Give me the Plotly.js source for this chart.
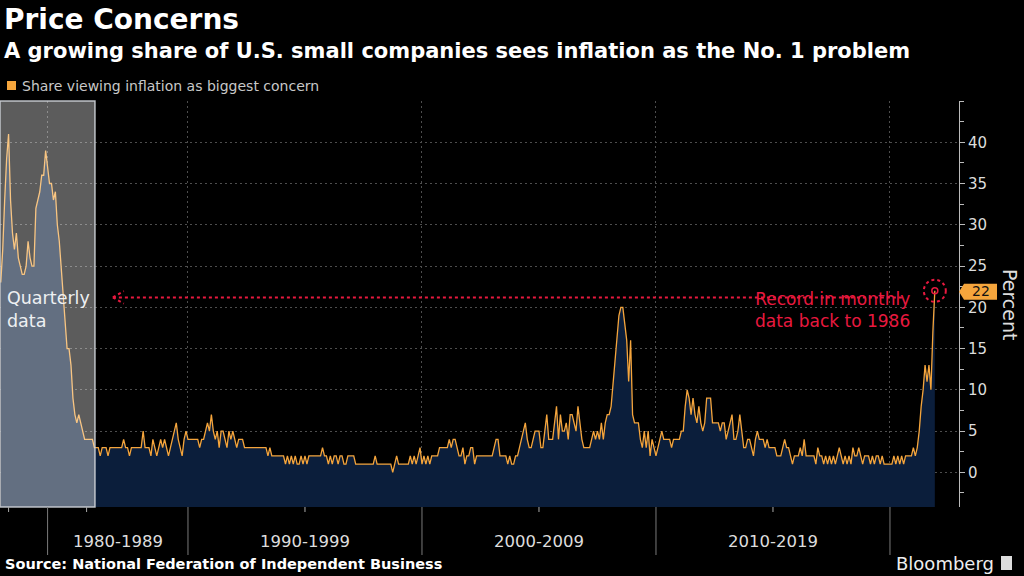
<!DOCTYPE html>
<html><head><meta charset="utf-8">
<script src="https://cdn.plot.ly/plotly-3.0.1.min.js"></script>
<style>html,body{margin:0;padding:0;background:#000;}#chart{width:1024px;height:576px;}</style>
</head><body><div id="chart"></div>
<script>
// ---- data ----
const quarterlyStartYear = 1974;   // first quarterly observation: 1974 Q1
const monthlyStartYear = 1986;     // first monthly observation: Jan 1986
const quarterlyValues = [23,27,33,38,41,33,29,27,29,26,25,24,24,25,28,26,25,25,32,33,34,36,36,39,37,35,35,33,34,30,28,25,22,18,15,15,13,9,7,6,7,6,5,4,4,4,4,4];
const monthlyValues = [
  3,3,3,2,3,3,3,2,3,3,3,3,        // 1986
  3,3,3,4,3,3,2,3,3,3,3,3,        // 1987
  3,5,3,3,3,2,4,3,2,3,4,3,        // 1988
  4,3,2,3,4,5,6,4,3,2,4,5,        // 1989
  4,4,4,4,4,4,3,4,4,5,6,5,        // 1990
  7,5,4,5,3,5,5,4,3,5,4,5,        // 1991
  4,3,4,4,4,3,3,3,3,3,3,3,        // 1992
  3,3,3,3,3,2,3,2,2,2,2,2,        // 1993
  2,2,1,2,1,2,1,2,1,1,2,1,        // 1994
  2,1,2,2,2,2,2,2,2,3,2,2,        // 1995
  1,2,1,2,2,1,2,2,1,1,2,2,        // 1996
  2,2,1,1,1,1,1,1,1,1,1,1,        // 1997
  2,1,1,1,1,1,1,1,1,0,1,2,        // 1998
  1,1,1,1,1,1,2,1,2,1,2,3,        // 1999
  1,2,1,2,1,2,2,2,2,3,3,3,        // 2000
  3,3,4,3,4,4,3,2,2,3,1,2,        // 2001
  2,3,3,1,2,2,2,2,2,2,2,2,        // 2002
  2,3,4,4,2,2,2,2,1,2,1,1,        // 2003
  2,2,3,4,5,6,4,3,3,4,5,5,        // 2004
  5,3,3,5,7,4,4,4,6,8,4,7,        // 2005
  5,5,6,4,7,7,6,5,8,6,4,3,        // 2006
  3,3,3,4,5,4,5,4,6,4,6,7,        // 2007
  7,8,11,14,17,19,20,20,18,16,11,16, // 2008
  7,6,6,6,4,3,5,3,5,2,4,3,        // 2009
  2,3,4,5,4,4,4,4,3,4,4,4,        // 2010
  4,5,5,8,10,9,7,9,7,6,8,6,       // 2011
  5,6,9,9,9,6,6,6,6,5,6,6,        // 2012
  4,5,6,7,4,4,5,7,5,3,3,4,        // 2013
  4,3,2,4,5,4,4,4,3,4,3,3,        // 2014
  3,3,2,2,2,3,4,3,3,2,1,2,        // 2015
  2,2,3,2,4,2,2,2,2,2,1,3,        // 2016
  2,2,1,2,1,2,1,2,1,2,3,2,        // 2017
  1,2,1,2,1,3,2,2,3,2,1,2,        // 2018
  2,2,1,2,1,2,2,1,2,1,1,1,        // 2019
  1,1,2,1,2,1,2,1,2,2,2,2,        // 2020
  3,2,3,5,8,10,13,11,13,10,17,22  // 2021
];
const decadeStartYears = [1980,1990,2000,2010,2020];
const decadeLabels = ['1980-1989','1990-1999','2000-2009','2010-2019'];
const midDecadeYears = [1975,1985,1995,2005,2015];
const yTickValues = [0,5,10,15,20,25,30,35,40];
const seriesName = 'Share viewing inflation as biggest concern';
const titleText = 'Price Concerns';
const subtitleText = 'A growing share of U.S. small companies sees inflation as the No. 1 problem';
const sourceText = 'Source: National Federation of Independent Business';
const noteText = 'Record in monthly<br>data back to 1986';
const regionText = 'Quarterly<br>data';
const yTitleText = 'Percent';

// ---- derived ----
const nQ = quarterlyValues.length;
function yearToIndex(yr){ return yr < monthlyStartYear ? (yr - quarterlyStartYear) * 4 : nQ + (yr - monthlyStartYear) * 12; }
const allValues = quarterlyValues.concat(monthlyValues);
const xIdx = allValues.map((v, i) => i);
const lastI = xIdx[xIdx.length - 1];
const lastV = allValues[allValues.length - 1];

const Y_MIN = -4.2, Y_MAX = 45;
const X_MIN = -0.4, X_MAX = 491.4;
const PLOT_TOP = 101, PLOT_BOTTOM = 507, PLOT_W = 959;
const PH = PLOT_BOTTOM - PLOT_TOP;
const py = p => (PLOT_BOTTOM - p) / PH;   // pixel row -> paper y
const px = p => p / PLOT_W;               // pixel col -> paper x

const RED = '#e8193f';
const ORANGE = '#f5a53c';
const FONT = 'DejaVu Sans';

const traces = [
  {x: xIdx, y: allValues.map(() => Y_MIN), type: 'scatter', mode: 'lines',
   line: {width: 0}, hoverinfo: 'skip', showlegend: false},
  {x: xIdx, y: allValues, type: 'scatter', mode: 'lines', name: seriesName,
   fill: 'tonexty', fillcolor: '#0b1e3b', line: {color: ORANGE, width: 1.3}, showlegend: false},
  {x: [lastI], y: [lastV], type: 'scatter', mode: 'markers',
   marker: {symbol: 'circle-open', size: 6, color: RED, line: {width: 1.5, color: RED}}, showlegend: false}
];

const shapes = [];
// quarterly overlay
shapes.push({type: 'rect', xref: 'x', yref: 'paper', x0: X_MIN, x1: nQ + 0.3, y0: 0, y1: 1,
  fillcolor: 'rgba(255,255,255,0.36)', line: {color: 'rgba(205,210,215,0.9)', width: 1.5}, layer: 'above'});
// decade separators
decadeStartYears.forEach(yr => shapes.push({type: 'line', xref: 'x', yref: 'paper',
  x0: yearToIndex(yr), x1: yearToIndex(yr), y0: 0, y1: py(555), line: {color: '#7a7a7a', width: 1}}));
// mid-decade ticks
midDecadeYears.forEach(yr => shapes.push({type: 'line', xref: 'x', yref: 'paper',
  x0: yearToIndex(yr), x1: yearToIndex(yr), y0: 0, y1: py(512), line: {color: '#aaa', width: 1}}));
// dotted arrow
const arrowY = 21.2, arrowX0 = 57.5, arrowX1 = lastI - 15.5;
shapes.push({type: 'line', xref: 'x', yref: 'y', x0: arrowX0, x1: arrowX1, y0: arrowY, y1: arrowY,
  line: {color: RED, width: 2, dash: 'dot'}});
shapes.push({type: 'line', xref: 'x', yref: 'y', x0: arrowX0, x1: arrowX0 + 5.6, y0: arrowY, y1: arrowY + 0.75,
  line: {color: RED, width: 2, dash: 'dot'}});
shapes.push({type: 'line', xref: 'x', yref: 'y', x0: arrowX0, x1: arrowX0 + 5.6, y0: arrowY, y1: arrowY - 0.75,
  line: {color: RED, width: 2, dash: 'dot'}});
// dotted circle around the record
shapes.push({type: 'circle', xref: 'x', yref: 'y', xsizemode: 'pixel', ysizemode: 'pixel',
  xanchor: lastI, yanchor: lastV, x0: -11, x1: 11, y0: -11, y1: 11,
  line: {color: RED, width: 2, dash: 'dot'}});
// value flag
shapes.push({type: 'path', xref: 'paper', yref: 'y', xsizemode: 'pixel', ysizemode: 'pixel',
  xanchor: 1, yanchor: lastV, path: 'M 0,-1 L 5,-9 L 38,-9 L 38,7 L 5,7 Z',
  fillcolor: ORANGE, line: {width: 0}});
// legend swatch
shapes.push({type: 'rect', xref: 'paper', yref: 'paper', x0: px(7), x1: px(16), y0: py(90), y1: py(81),
  fillcolor: ORANGE, line: {width: 0}});
// bloomberg mark
shapes.push({type: 'rect', xref: 'paper', yref: 'paper', x0: px(1001), x1: px(1012), y0: py(570), y1: py(556),
  fillcolor: '#ddd', line: {width: 0}});

const annotations = [
  {text: '<b>' + titleText + '</b>', xref: 'paper', yref: 'paper', x: px(2), y: py(20), xanchor: 'left', yanchor: 'middle',
   showarrow: false, font: {family: FONT, size: 28, color: '#fff'}},
  {text: '<b>' + subtitleText + '</b>', xref: 'paper', yref: 'paper', x: px(2), y: py(51), xanchor: 'left', yanchor: 'middle',
   showarrow: false, font: {family: FONT, size: 21, color: '#fff'}},
  {text: seriesName, xref: 'paper', yref: 'paper', x: px(20), y: py(86), xanchor: 'left', yanchor: 'middle',
   showarrow: false, font: {family: FONT, size: 14, color: '#c8c8c8'}},
  {text: '<b>' + sourceText + '</b>', xref: 'paper', yref: 'paper', x: px(3), y: py(564), xanchor: 'left', yanchor: 'middle',
   showarrow: false, font: {family: FONT, size: 14.5, color: '#fff'}},
  {text: 'Bloomberg', xref: 'paper', yref: 'paper', x: px(996), y: py(563), xanchor: 'right', yanchor: 'middle',
   showarrow: false, font: {family: FONT, size: 18, color: '#eee'}},
  {text: regionText, xref: 'paper', yref: 'paper', x: px(5), y: py(309), xanchor: 'left', yanchor: 'middle', align: 'left',
   showarrow: false, font: {family: FONT, size: 17.5, color: '#eef0f2'}},
  {text: noteText, xref: 'paper', yref: 'paper', x: px(912), y: py(310), xanchor: 'right', yanchor: 'middle', align: 'right',
   showarrow: false, font: {family: FONT, size: 17, color: RED}},
  {text: String(lastV), xref: 'paper', yref: 'y', x: 1, y: lastV, xshift: 22, yshift: 0, xanchor: 'center', yanchor: 'middle',
   showarrow: false, font: {family: FONT, size: 14, color: '#111'}},
  {text: yTitleText, xref: 'paper', yref: 'paper', x: 1, xshift: 51, y: py(305), xanchor: 'center', yanchor: 'middle',
   textangle: 90, showarrow: false, font: {family: FONT, size: 19, color: '#ddd'}}
];
decadeLabels.forEach((lab, k) => annotations.push({text: lab, xref: 'x', yref: 'paper',
  x: (yearToIndex(decadeStartYears[k]) + yearToIndex(decadeStartYears[k + 1])) / 2, y: py(541),
  xanchor: 'center', yanchor: 'middle', showarrow: false, font: {family: FONT, size: 16.5, color: '#ddd'}}));

const layout = {
  width: 1024, height: 576,
  paper_bgcolor: '#000', plot_bgcolor: '#000',
  margin: {l: 0, r: 1024 - PLOT_W, t: PLOT_TOP, b: 576 - PLOT_BOTTOM, pad: 0},
  showlegend: false,
  xaxis: {range: [X_MIN, X_MAX], tickvals: decadeStartYears.map(yearToIndex), showticklabels: false, ticks: '',
    showgrid: true, gridcolor: '#4d4d4d', gridwidth: 1, griddash: '2px,3px', zeroline: false, showline: false, fixedrange: true},
  yaxis: {side: 'right', range: [Y_MIN, Y_MAX], tickvals: yTickValues, ticks: 'outside', ticklen: 5, tickcolor: '#bbb',
    showline: true, linecolor: '#bbb', linewidth: 1, showgrid: true, gridcolor: '#4d4d4d', griddash: '2px,3px', zeroline: false,
    tickfont: {family: FONT, size: 15, color: '#ddd'},
    minor: {tick0: 0, dtick: 2.5, ticks: 'outside', ticklen: 4, tickcolor: '#bbb', showgrid: false}, fixedrange: true},
  shapes: shapes, annotations: annotations
};

Plotly.newPlot('chart', traces, layout, {staticPlot: true, displayModeBar: false});
</script></body></html>
